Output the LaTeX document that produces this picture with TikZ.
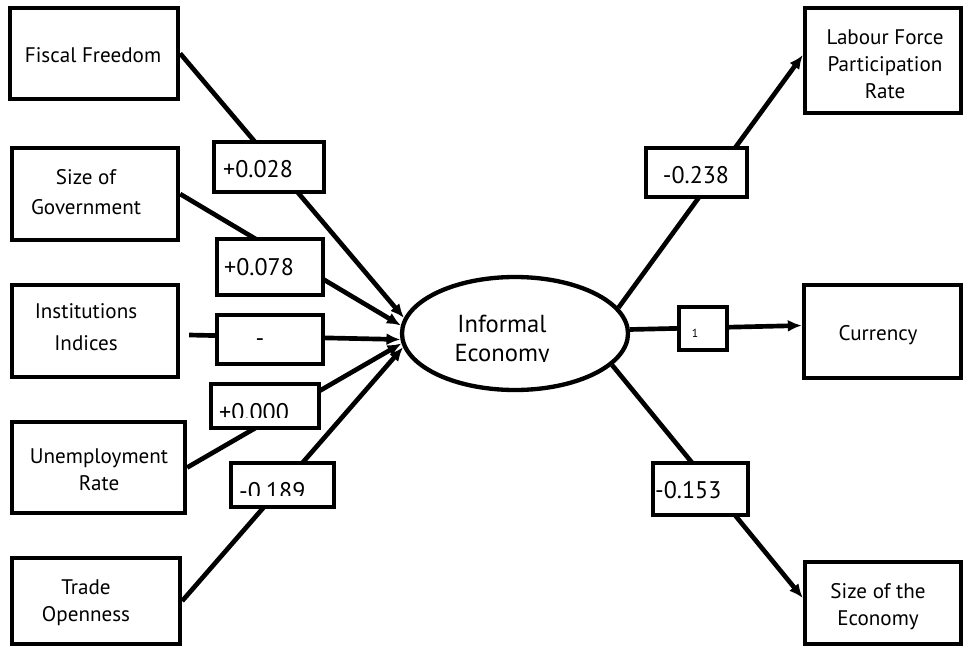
\documentclass[tikz,border=0pt]{standalone}
\usepackage{fontspec}
\setmainfont{PT Sans}
\usetikzlibrary{arrows.meta,shapes.geometric}
\newcommand\bxf{\fontsize{18}{23}\selectfont}
\newcommand\lbf{\fontsize{20.5}{24}\selectfont}
\newcommand\elf{\fontsize{21}{24.7}\selectfont}
\begin{document}
\begin{tikzpicture}[x=0.03cm,y=-0.03cm,
  box/.style={draw, line width=0.13cm, inner sep=0pt, fill=white},
  lbl/.style={draw, line width=0.13cm, inner sep=0pt, fill=white},
  txt/.style={inner sep=0pt, align=center, font=\bxf},
  num/.style={inner sep=0pt, font=\lbf},
  conn/.style={line width=0.14cm, -{Latex[length=0.42cm,width=0.36cm]}}]
\useasboundingbox (0,0) rectangle (963,647);
% main boxes
\node[box, minimum width=5.04cm, minimum height=2.73cm] (ff) at (94,53.5) {};
\node[box, minimum width=4.98cm, minimum height=2.76cm] (sg) at (95,194) {};
\node[box, minimum width=4.98cm, minimum height=2.76cm] (ii) at (95,331) {};
\node[box, minimum width=5.19cm, minimum height=2.73cm] (ue) at (98.5,467.5) {};
\node[box, minimum width=5.04cm, minimum height=2.58cm] (to) at (96,601) {};
\node[box, minimum width=4.68cm, minimum height=3.15cm] (lf) at (883,60.5) {};
\node[box, minimum width=4.71cm, minimum height=2.79cm] (cu) at (882.5,331.5) {};
\node[box, minimum width=4.68cm, minimum height=2.46cm] (se) at (883,603) {};
\node[ellipse, draw, line width=0.13cm, inner sep=0pt, minimum width=6.78cm, minimum height=3.39cm] (ie) at (515,333.5) {};
% box texts
\node[txt] (fft) at (93,55) {Fiscal Freedom};
\node[txt] (sgt) at (86,192) {Size of\\[2pt]Government};
\node[txt] (iit) at (86,327) {Institutions\\[4pt]Indices};
\node[txt] (uet) at (99,470) {Unemployment\\Rate};
\node[txt] (tot) at (86,603) {Trade\\Openness};
\node[txt] (lft) at (885,64) {Labour Force\\Participation\\Rate};
\node[txt] (cut) at (878,335) {Currency};
\node[txt] (sett) at (878,607) {Size of the\\Economy};
\begin{scope}
\clip (400,280) rectangle (630,361);
\node[txt, font=\elf] (iet) at (502,341) {Informal\\Economy};
\end{scope}
% connectors
\draw[conn] (ff.east) -- (ie.172.5);
\draw[conn] (sg.east) -- (ie.176.3);
\draw[conn] ([xshift=0.27cm,yshift=-0.12cm]ii.east) -- (ie.183.7);
\draw[conn] (ue.east) -- (ie.185);
\draw[conn] (to.east) -- (ie.187);
\draw[conn] (ie.14.8) -- ([yshift=0.165cm]lf.west);
\draw[conn] (ie.2) -- ([yshift=0.18cm]cu.west);
\draw[conn] (ie.342) -- ([yshift=0.15cm]se.west);
% coefficient boxes
\node[lbl, minimum width=3.3cm, minimum height=1.5cm] (l1) at (269,167) {};
\node[lbl, minimum width=3.18cm, minimum height=1.68cm] (l2) at (270,267) {};
\node[lbl, minimum width=3.18cm, minimum height=1.47cm] (l3) at (270,339.5) {};
\node[lbl, minimum width=3.24cm, minimum height=1.32cm] (l4) at (265,406) {};
\node[lbl, minimum width=3.09cm, minimum height=1.32cm] (l5) at (282.5,485) {};
\node[lbl, minimum width=3.03cm, minimum height=1.47cm] (l6) at (696.5,172.5) {};
\node[lbl, minimum width=1.44cm, minimum height=1.29cm] (l7) at (703,328.5) {};
\node[lbl, minimum width=2.85cm, minimum height=1.56cm] (l8) at (700.5,489) {};
% coefficient texts
\node[num, anchor=base west] (t1) at (223,177) {+0.028};
\node[num, anchor=base west] (t2) at (224,275) {+0.078};
\node[num] (t3) at (260,343) {-};
\begin{scope}
\clip (211,384) rectangle (319,417);
\node[num, anchor=base west] (t4) at (219,420) {+0.000};
\end{scope}
\begin{scope}
\clip (231,463) rectangle (334,495);
\node[num, anchor=base west] (t5) at (239,499) {-0.189};
\end{scope}
\node[num, anchor=base] (t6) at (696,183) {-0.238};
\node[inner sep=0pt, font=\fontsize{10}{12}\selectfont] (t7) at (695,333) {1};
\node[num, anchor=base west] (t8) at (655,498) {-0.153};
\end{tikzpicture}
\end{document}
